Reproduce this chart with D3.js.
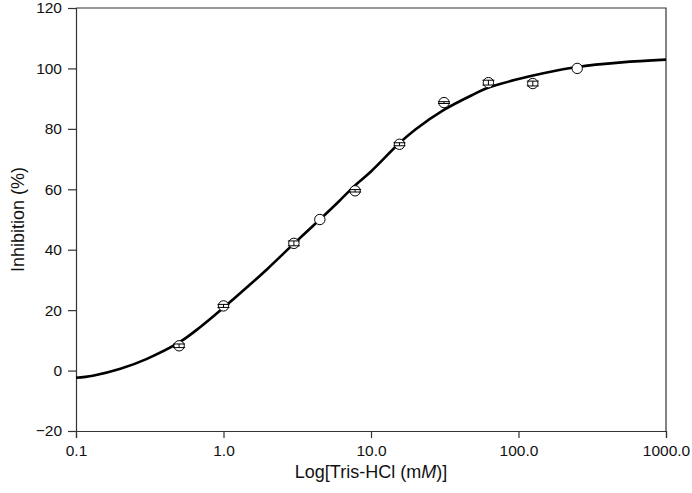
<!DOCTYPE html>
<html>
<head>
<meta charset="utf-8">
<script src="https://cdn.jsdelivr.net/npm/d3@7"></script>
<style>
  body { margin: 0; background: #fff; }
  svg { display: block; font-family: "Liberation Sans", Arial, sans-serif; }
  .axis path, .axis line { stroke: #333; stroke-width: 1.2; }
  .axis text { font-size: 15.5px; fill: #111; }
</style>
</head>
<body>
<div id="chart"></div>
<script>
// measured points (concentration mM, inhibition %, sd)
const conc = [0.5, 1.0, 3.0, 4.5, 7.8, 15.6, 31.25, 62.5, 125, 250];
const inhib = [8.2, 21.4, 42.1, 50.0, 59.5, 74.9, 88.7, 95.3, 95.0, 100.0];
const sd = [0.6, 0.5, 0.8, 0, 0.4, 0.5, 0.3, 0.8, 0.8, 0];

// fitted curve
const fitX = [0.1, 0.13, 0.2, 0.3, 0.5, 0.7, 1.0, 1.5, 2.0, 3.0, 4.5, 6.0, 7.8, 10, 15.6, 20, 31, 50, 62, 100, 150, 250, 500, 1000];
const fitY = [-2.4, -1.7, 0.6, 3.8, 9.3, 14.5, 20.8, 28.3, 33.8, 42, 50, 55.8, 61.3, 65.9, 75.3, 79.8, 86.2, 91.5, 93.6, 96.5, 98.5, 100.5, 102, 102.9];

const xTicks = [0.1, 1, 10, 100, 1000];
const yTicks = [-20, 0, 20, 40, 60, 80, 100, 120];

const W = 692, H = 493;
const margin = {top: 8, right: 26, bottom: 62, left: 76};
const width = W - margin.left - margin.right;
const height = H - margin.top - margin.bottom;

const svg = d3.select("#chart").append("svg")
    .attr("width", W)
    .attr("height", H);

const g = svg.append("g")
    .attr("transform", "translate(" + margin.left + "," + margin.top + ")");

const x = d3.scaleLog().domain([0.1, 1000]).range([0, width]);
const y = d3.scaleLinear().domain([-20, 120]).range([height, 0]);

// frame (top and right)
g.append("path")
    .attr("d", "M0,0H" + width + "V" + height)
    .attr("fill", "none")
    .attr("stroke", "#333")
    .attr("stroke-width", 1.2);

g.append("g")
    .attr("class", "axis")
    .attr("transform", "translate(0," + height + ")")
    .call(d3.axisBottom(x).tickValues(xTicks).tickFormat(d3.format(".1f")).tickSizeOuter(0).tickSize(7).tickPadding(7));

g.append("g")
    .attr("class", "axis")
    .call(d3.axisLeft(y).tickValues(yTicks).tickSizeOuter(0).tickSize(8).tickPadding(6));

// curve
const line = d3.line()
    .x((d, i) => x(fitX[i]))
    .y(d => y(d))
    .curve(d3.curveCatmullRom.alpha(0.5));

g.append("path")
    .datum(fitY)
    .attr("d", line)
    .attr("fill", "none")
    .attr("stroke", "#000")
    .attr("stroke-width", 2.6);

// points
const pts = conc.map((c, i) => ({c: c, v: inhib[i], e: sd[i]}));

g.selectAll("circle.pt")
    .data(pts)
    .join("circle")
    .attr("class", "pt")
    .attr("cx", d => x(d.c))
    .attr("cy", d => y(d.v))
    .attr("r", 5.2)
    .attr("fill", "#fff")
    .attr("stroke", "#000")
    .attr("stroke-width", 1);

// error bars on top of the circles
const eb = g.selectAll("g.eb")
    .data(pts.filter(d => d.e > 0))
    .join("g")
    .attr("class", "eb")
    .attr("stroke", "#000")
    .attr("stroke-width", 1);

eb.append("line")
    .attr("x1", d => x(d.c)).attr("x2", d => x(d.c))
    .attr("y1", d => y(d.v - d.e)).attr("y2", d => y(d.v + d.e));
eb.append("line")
    .attr("x1", d => x(d.c) - 6).attr("x2", d => x(d.c) + 6)
    .attr("y1", d => y(d.v + d.e)).attr("y2", d => y(d.v + d.e));
eb.append("line")
    .attr("x1", d => x(d.c) - 6).attr("x2", d => x(d.c) + 6)
    .attr("y1", d => y(d.v - d.e)).attr("y2", d => y(d.v - d.e));

// axis titles
const xt = svg.append("text")
    .attr("x", margin.left + width / 2)
    .attr("y", H - 15)
    .attr("text-anchor", "middle")
    .style("font-size", "18px")
    .attr("fill", "#111");
xt.append("tspan").text("Log[Tris-HCl (m");
xt.append("tspan").style("font-style", "italic").text("M");
xt.append("tspan").text(")]");

svg.append("text")
    .attr("transform", "translate(24," + (margin.top + y(50)) + ") rotate(-90)")
    .attr("text-anchor", "middle")
    .style("font-size", "18px")
    .attr("fill", "#111")
    .text("Inhibition (%)");
</script>
</body>
</html>
